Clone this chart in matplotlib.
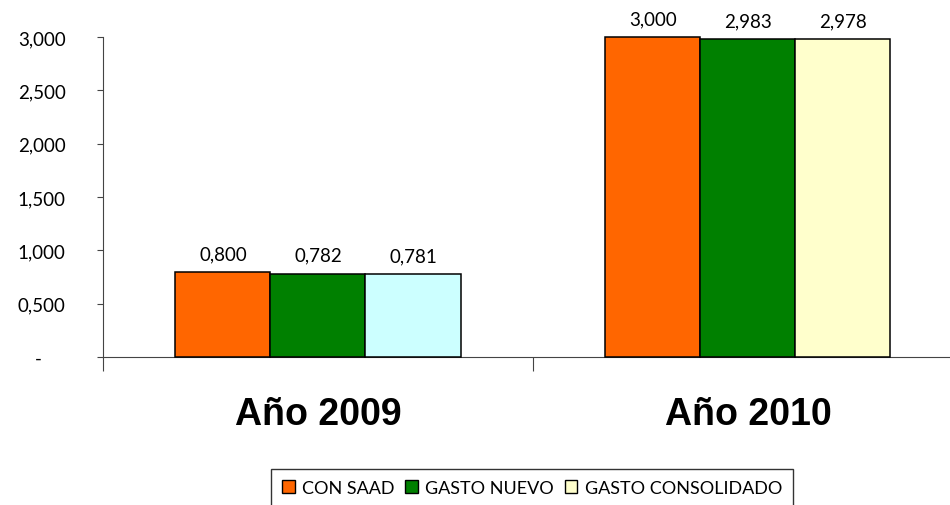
import numpy as np
import matplotlib.pyplot as plt
from matplotlib.patches import Patch
from matplotlib.ticker import FixedLocator

plt.rcParams['font.family'] = ['Lato', 'DejaVu Sans']

categories = ['Año 2009', 'Año 2010']
series_names = ['CON SAAD', 'GASTO NUEVO', 'GASTO CONSOLIDADO']
con_saad = [0.800, 3.000]
gasto_nuevo = [0.782, 2.983]
gasto_consolidado = [0.781, 2.978]
y_ticks = [0, 0.5, 1.0, 1.5, 2.0, 2.5, 3.0]
y_tick_labels = ['-\u2003\u2002', '0,500', '1,000', '1,500', '2,000', '2,500', '3,000']

orange = '#FF6600'
green = '#008000'
cyan = '#CCFFFF'
yellow = '#FFFFCC'

fig = plt.figure(figsize=(9.5, 5.06), dpi=100)
ax = fig.add_axes([103 / 950, 148 / 506, 847 / 950, 320 / 506])

x = np.arange(len(categories))
w = 0.221
series = [con_saad, gasto_nuevo, gasto_consolidado]
colors = [[orange, orange], [green, green], [cyan, yellow]]
for i, (vals, col) in enumerate(zip(series, colors)):
    bars = ax.bar(x + (i - 1) * w, vals, w, color=col, edgecolor='black',
                  linewidth=1.1, clip_on=False, zorder=3)
    for b, v in zip(bars, vals):
        ax.annotate(f'{v:.3f}'.replace('.', ','),
                    (b.get_x() + b.get_width() / 2, v),
                    xytext=(0, 7), textcoords='offset points',
                    ha='center', va='bottom', fontsize=13.5)

ax.set_xlim(-0.5, 1.47)
ax.set_ylim(0, 3.0)
ax.set_yticks(y_ticks)
ax.set_yticklabels(y_tick_labels, fontsize=13.5)
ax.tick_params(axis='y', length=4, width=0.8, pad=23, color='#444444')

ax.set_xticks(x)
ax.set_xticklabels(categories, fontsize=27, fontweight='bold',
                   family=['Liberation Sans', 'DejaVu Sans'])
ax.tick_params(axis='x', which='major', length=0, pad=28)
ax.xaxis.set_minor_locator(FixedLocator([-0.5, 0.5]))
ax.tick_params(axis='x', which='minor', length=10, width=0.8, color='#444444')

for s in ['top', 'right']:
    ax.spines[s].set_visible(False)
ax.spines['left'].set_color('#444444')
ax.spines['bottom'].set_color('#444444')
ax.spines['left'].set_linewidth(0.8)
ax.spines['bottom'].set_linewidth(0.8)

handles = [Patch(facecolor=orange, edgecolor='black'),
           Patch(facecolor=green, edgecolor='black'),
           Patch(facecolor=yellow, edgecolor='black')]
leg = fig.legend(handles, series_names, loc='upper center',
                 bbox_to_anchor=(532 / 950, 1 - 470 / 506), ncol=3,
                 fontsize=13, frameon=True, fancybox=False,
                 handlelength=0.7, handleheight=0.7, handletextpad=0.4,
                 columnspacing=0.6, borderpad=0.6, borderaxespad=0)
leg.get_frame().set_edgecolor('black')
leg.get_frame().set_linewidth(1.0)

fig.savefig('out.png', dpi=100)
